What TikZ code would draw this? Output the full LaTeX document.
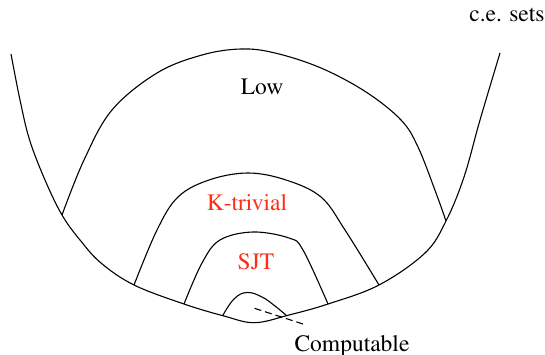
\documentclass[tikz,border=0pt]{standalone}
\usepackage[T1]{fontenc}
\renewcommand{\rmdefault}{ptm}
\definecolor{setred}{RGB}{255,45,20}
\begin{document}
\begin{tikzpicture}[x=1pt,y=-1pt,
  curve/.style={draw=black,line width=1.1pt,smooth,tension=0.6},
  lbl/.style={font=\rmfamily\fontsize{23.5}{27}\selectfont,anchor=base,inner sep=0pt},
  redlbl/.style={lbl,text=setred}]
\useasboundingbox (0,0) rectangle (545,355);
% outer U
\draw[curve] plot coordinates {(11,54) (20,100) (29.6,140) (45,180) (62,215) (80,240) (101,263) (134,285) (184,304) (224,316) (254.5,322.7) (289,315) (328,304) (379,285) (425,253) (446,221) (464,177) (480,120) (500,53)};
% Low
\draw[curve] plot coordinates {(62,215) (84,160) (112,110) (157,73) (202,55) (241,49) (275,53) (321,68) (366,92) (401,120) (418,147) (436,193) (446,221)};
% K-trivial
\draw[curve] plot coordinates {(134,285) (157,230) (178,197) (209,180) (248,173) (286,180) (321,197) (345,230) (379,285)};
% SJT
\draw[curve] plot coordinates {(184,304) (202,263) (220,240) (253,232) (289,238) (303,250) (328,304)};
% Computable bump
\draw[curve,tension=0.7] plot coordinates {(222.5,316) (234,299) (247,292.5) (262,297) (275,306) (287,316)};
% labels
\node[lbl] (ce) at (507,21.7) {c.e. sets};
\node[lbl] (low) at (262,94.3) {Low};
\node[redlbl] (kt) at (247,211) {K-trivial};
\node[redlbl] (sjt) at (256,269) {SJT};
\node[lbl] (comp) at (352,351) {Computable};
\coordinate (cin) at (254.5,308.3);
\coordinate (cout) at (306,325);
\draw[black,line width=1.1pt,dash pattern=on 7pt off 4pt] (cin) -- (cout);
\end{tikzpicture}
\end{document}
